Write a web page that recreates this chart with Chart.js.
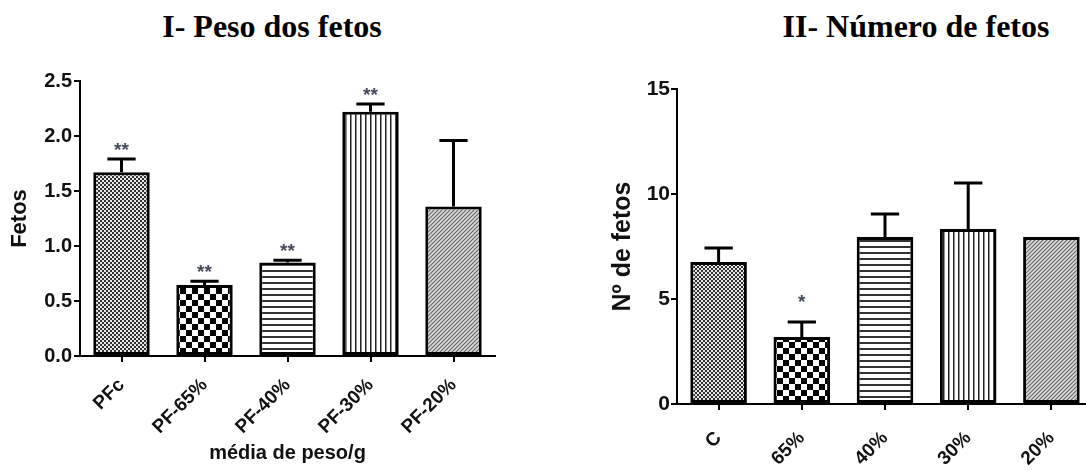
<!DOCTYPE html>
<html>
<head>
<meta charset="utf-8">
<script src="https://cdn.jsdelivr.net/npm/chart.js@4.4.0/dist/chart.umd.min.js"></script>
<style>
  body { margin: 0; width: 1086px; height: 471px; overflow: hidden; background: #fff; position: relative; }
  .title { position: absolute; top: 10px; font: bold 32px "Liberation Serif"; line-height: 32px; white-space: nowrap; transform: translateX(-50%); color: #000; }
  #wrap1 { position: absolute; left: 0; top: 0; }
  #wrap2 { position: absolute; left: 543px; top: 0; }
</style>
</head>
<body>
<div class="title" style="left:272px">I- Peso dos fetos</div>
<div class="title" style="left:916px">II- Número de fetos</div>
<div id="wrap1"><canvas id="pesoChart" width="543" height="471"></canvas></div>
<div id="wrap2"><canvas id="numeroChart" width="560" height="471"></canvas></div>
<script>
// I - peso dos fetos (g)
const pesoLabels = ['PFc', 'PF-65%', 'PF-40%', 'PF-30%', 'PF-20%'];
const pesoMedia = [1.67, 0.645, 0.85, 2.22, 1.36];
const pesoErro = [0.12, 0.035, 0.02, 0.07, 0.60];
const pesoSig = ['**', '**', '**', '**', ''];
const pesoTicks = [0, 0.5, 1.0, 1.5, 2.0, 2.5];

// II - numero de fetos
const numLabels = ['C', '65%', '40%', '30%', '20%'];
const numMedia = [6.76, 3.19, 7.95, 8.33, 7.95];
const numErro = [0.67, 0.72, 1.1, 2.19, 0];
const numSig = ['', '*', '', '', ''];
const numTicks = [0, 5, 10, 15];

Chart.defaults.font.family = 'Liberation Sans';
Chart.defaults.font.weight = 'bold';
Chart.defaults.color = '#111';

function makePattern(kind) {
  const c = document.createElement('canvas');
  let s = 4;
  if (kind === 'check') s = 12;
  if (kind === 'hlines') s = 6;
  if (kind === 'vlines') s = 5;
  c.width = s; c.height = s;
  const g = c.getContext('2d');
  if (kind === 'fine') {
    g.fillStyle = '#e6e6e6'; g.fillRect(0, 0, 4, 4);
    g.fillStyle = '#333'; g.fillRect(0, 0, 2, 2); g.fillRect(2, 2, 2, 2);
  } else if (kind === 'check') {
    g.fillStyle = '#fff'; g.fillRect(0, 0, 12, 12);
    g.fillStyle = '#000'; g.fillRect(0, 0, 6, 6); g.fillRect(6, 6, 6, 6);
  } else if (kind === 'hlines') {
    g.fillStyle = '#fff'; g.fillRect(0, 0, 6, 6);
    g.fillStyle = '#333'; g.fillRect(0, 0, 6, 2);
  } else if (kind === 'vlines') {
    g.fillStyle = '#fff'; g.fillRect(0, 0, 5, 5);
    g.fillStyle = '#222'; g.fillRect(0, 0, 1.5, 5);
  } else if (kind === 'diag') {
    g.fillStyle = '#dcdcdc'; g.fillRect(0, 0, 4, 4);
    g.strokeStyle = '#666'; g.lineWidth = 1.2;
    g.beginPath();
    g.moveTo(-1, 5); g.lineTo(5, -1);
    g.moveTo(-1, 1); g.lineTo(1, -1);
    g.moveTo(3, 5); g.lineTo(5, 3);
    g.stroke();
  }
  return g.createPattern(c, 'repeat');
}

const fills = ['fine', 'check', 'hlines', 'vlines', 'diag'].map(makePattern);

// error bars (upper only) + significance stars
const errorBars = {
  id: 'errorBars',
  afterDatasetsDraw(chart, args, opts) {
    const ctx = chart.ctx;
    const ds = chart.data.datasets[0];
    const y = chart.scales.y;
    const meta = chart.getDatasetMeta(0);
    ctx.save();
    meta.data.forEach((bar, i) => {
      const e = ds.erro[i];
      let top = bar.y;
      if (e > 0) {
        top = y.getPixelForValue(ds.data[i] + e);
        const half = bar.width / 4;
        ctx.strokeStyle = '#000';
        ctx.lineWidth = 3;
        ctx.beginPath();
        ctx.moveTo(bar.x, bar.y);
        ctx.lineTo(bar.x, top);
        ctx.moveTo(bar.x - half, top);
        ctx.lineTo(bar.x + half, top);
        ctx.stroke();
      }
      if (ds.sig[i]) {
        ctx.fillStyle = '#454b5a';
        ctx.font = 'bold ' + opts.size + 'px "Liberation Sans"';
        ctx.textAlign = 'center';
        ctx.textBaseline = 'alphabetic';
        ctx.fillText(ds.sig[i], bar.x, top - opts.gap + opts.size * 0.55);
      }
    });
    ctx.restore();
  }
};

function build(id, labels, media, erro, sig, ticks, o) {
  new Chart(document.getElementById(id), {
    type: 'bar',
    data: {
      labels: labels,
      datasets: [{
        data: media,
        erro: erro,
        sig: sig,
        backgroundColor: fills,
        borderColor: '#000',
        borderWidth: 3,
        borderSkipped: false,
        barPercentage: 0.68,
        categoryPercentage: 1
      }]
    },
    options: {
      responsive: false,
      animation: false,
      events: [],
      layout: { padding: o.padding },
      plugins: {
        legend: { display: false },
        tooltip: { enabled: false },
        errorBars: { gap: o.gap, size: o.starSize }
      },
      scales: {
        x: {
          grid: { display: true, drawOnChartArea: false, drawTicks: true, tickLength: 6, color: '#000', lineWidth: 2, offset: false },
          border: { display: true, color: '#000', width: 2 },
          ticks: { autoSkip: false, minRotation: 45, maxRotation: 45, padding: o.xPad, font: { size: o.xSize } },
          title: o.xTitle ? { display: true, text: o.xTitle, font: { size: 20 }, padding: { top: 0, bottom: 6 } } : { display: false },
          afterFit: s => { s.height = o.xHeight; }
        },
        y: {
          min: ticks[0],
          max: ticks[ticks.length - 1],
          afterBuildTicks: s => { s.ticks = ticks.map(v => ({ value: v })); },
          grid: { display: true, drawOnChartArea: false, drawTicks: true, tickLength: 6, color: '#000', lineWidth: 2 },
          border: { display: true, color: '#000', width: 2 },
          ticks: { padding: o.yPad, font: { size: o.ySize }, callback: v => o.fmt(v) },
          title: { display: true, text: o.yTitle, font: { size: o.yTitleSize }, padding: { top: o.yTitlePad, bottom: 0 } },
          afterFit: s => { s.width = o.yWidth; }
        }
      }
    },
    plugins: [errorBars]
  });
}

build('pesoChart', pesoLabels, pesoMedia, pesoErro, pesoSig, pesoTicks, {
  padding: { top: 81, right: 48, left: 0, bottom: 0 },
  xHeight: 115, yWidth: 80, xPad: 12, yPad: 2, xSize: 19, ySize: 20,
  xTitle: 'média de peso/g', yTitle: 'Fetos', yTitleSize: 22, yTitlePad: 7,
  gap: 14, starSize: 19, fmt: v => v.toFixed(1)
});

build('numeroChart', numLabels, numMedia, numErro, numSig, numTicks, {
  padding: { top: 89, right: 10, left: 0, bottom: 0 },
  xHeight: 67, yWidth: 134, xPad: 17, yPad: 1, xSize: 19, ySize: 21,
  xTitle: null, yTitle: 'Nº de fetos', yTitleSize: 25, yTitlePad: 65,
  gap: 24, starSize: 19, fmt: v => String(v)
});
</script>
</body>
</html>
